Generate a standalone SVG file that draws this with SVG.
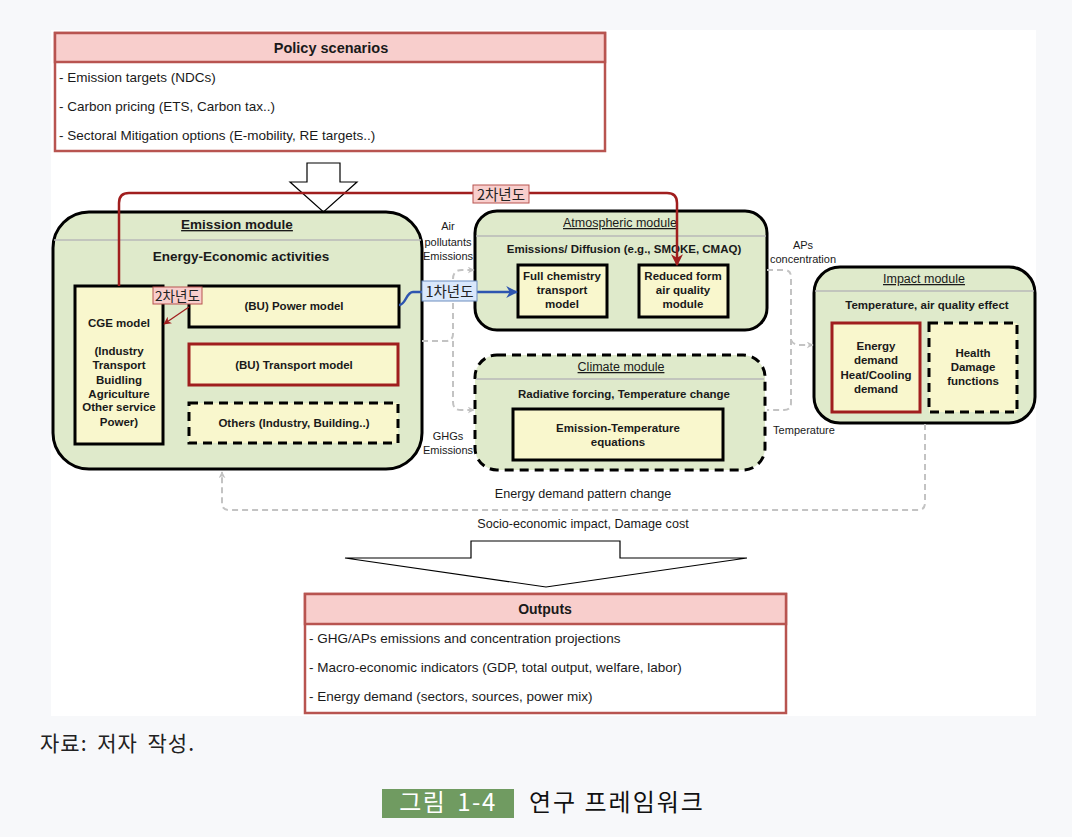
<svg xmlns="http://www.w3.org/2000/svg" width="1072" height="837" viewBox="0 0 1072 837">
  <style>
    .t { font-family: "Liberation Sans", Arial, sans-serif; fill: #1a1a1a; }
    .b { font-weight: bold; }
    .c { text-anchor: middle; }
    .kr { font-family: "Noto Sans CJK KR", "Liberation Sans", sans-serif; }
    .mod { fill: #dfeacb; stroke: #000; stroke-width: 3; }
    .box { fill: #f9f7cd; stroke: #000; stroke-width: 3; }
    .redbox { stroke: #a01e1e; }
    .dash { stroke-dasharray: 9 6; }
    .sep { stroke: #b8b8b8; stroke-width: 1.3; }
    .gray { fill: none; stroke: #c3c3c3; stroke-width: 2; stroke-dasharray: 6 4; }
    .panel { fill: #fff; stroke: #b85450; stroke-width: 2.5; }
    .panelhead { fill: #f8cecc; stroke: #b85450; stroke-width: 2.5; }
  </style>
  <defs>
    <marker id="ahGray" viewBox="0 0 10 10" refX="9" refY="5" markerWidth="7" markerHeight="7" markerUnits="userSpaceOnUse" orient="auto">
      <path d="M0,0 L10,5 L0,10 L3,5 Z" fill="#c3c3c3"/>
    </marker>
    <marker id="ahRed" viewBox="0 0 10 10" refX="9" refY="5" markerWidth="12" markerHeight="12" markerUnits="userSpaceOnUse" orient="auto">
      <path d="M0,0 L10,5 L0,10 L3,5 Z" fill="#a01e1e"/>
    </marker>
    <marker id="ahRedSmall" viewBox="0 0 10 10" refX="9" refY="5" markerWidth="8" markerHeight="8" markerUnits="userSpaceOnUse" orient="auto">
      <path d="M0,0 L10,5 L0,10 L3,5 Z" fill="#a01e1e"/>
    </marker>
    <marker id="ahBlue" viewBox="0 0 10 10" refX="9" refY="5" markerWidth="12" markerHeight="12" markerUnits="userSpaceOnUse" orient="auto">
      <path d="M0,0 L10,5 L0,10 L3,5 Z" fill="#2d55b0"/>
    </marker>
  </defs>

  <!-- page and figure backgrounds -->
  <rect x="0" y="0" width="1072" height="837" fill="#f7f8fa"/>
  <rect x="51" y="30" width="985" height="686" fill="#fff"/>

  <!-- policy scenarios panel -->
  <g id="policy">
    <rect class="panel" x="55" y="33" width="550" height="118"/>
    <rect class="panelhead" x="55" y="33" width="550" height="29"/>
    <text class="t b c" x="331" y="53" font-size="14.5">Policy scenarios</text>
    <text class="t" x="59" y="82" font-size="13.5">- Emission targets (NDCs)</text>
    <text class="t" x="59" y="111" font-size="13.5">- Carbon pricing (ETS, Carbon tax..)</text>
    <text class="t" x="59" y="140" font-size="13.5">- Sectoral Mitigation options (E-mobility, RE targets..)</text>
  </g>

  <!-- block arrow: policy into the modules -->
  <g id="policy-arrow">
    <polygon points="307,163 340,163 340,182 357,182 323.5,212 290,182 307,182" fill="#fff" stroke="#000" stroke-width="1.2"/>
  </g>

  <!-- emission module -->
  <g id="emission-module">
    <rect class="mod" x="53" y="212" width="369" height="257" rx="36"/>
    <line class="sep" x1="54" y1="240" x2="421" y2="240"/>
    <text class="t b c" x="237" y="229" font-size="13.5" fill="#333" text-decoration="underline">Emission module</text>
    <text class="t b c" x="241" y="261" font-size="13.5">Energy-Economic activities</text>
  </g>
  <g id="cge-model">
    <rect class="box" x="75" y="286" width="88" height="158"/>
    <g class="t b c" font-size="11.5">
      <text x="119" y="327">CGE model</text>
      <text x="119" y="355">(Industry</text>
      <text x="119" y="369">Transport</text>
      <text x="119" y="384">Buidling</text>
      <text x="119" y="398">Agriculture</text>
      <text x="119" y="411">Other service</text>
      <text x="119" y="426">Power)</text>
    </g>
  </g>
  <g id="power-model">
    <rect class="box" x="189" y="286" width="210" height="41"/>
    <text class="t b c" x="294" y="310" font-size="11.5">(BU) Power model</text>
  </g>
  <g id="transport-model">
    <rect class="box redbox" x="189" y="344" width="209" height="41"/>
    <text class="t b c" x="294" y="369" font-size="11.5">(BU) Transport model</text>
  </g>
  <g id="others-model">
    <rect class="box dash" x="189" y="403" width="209" height="40"/>
    <text class="t b c" x="294" y="427" font-size="11.5">Others (Industry, Building..)</text>
  </g>

  <!-- atmospheric module -->
  <g id="atmospheric-module">
    <rect class="mod" x="475" y="211" width="292" height="119" rx="22"/>
    <line class="sep" x1="476" y1="236" x2="766" y2="236"/>
    <text class="t c" x="620" y="227" font-size="12.5" fill="#333" text-decoration="underline">Atmospheric module</text>
    <text class="t b c" x="624" y="253" font-size="11.5">Emissions/ Diffusion (e.g., SMOKE, CMAQ)</text>
  </g>
  <g id="full-chemistry">
    <rect class="box" x="518" y="265" width="89" height="52"/>
    <g class="t b c" font-size="11.5">
      <text x="562" y="280">Full chemistry</text>
      <text x="562" y="294">transport</text>
      <text x="562" y="308">model</text>
    </g>
  </g>
  <g id="reduced-form">
    <rect class="box" x="639" y="265" width="89" height="52"/>
    <g class="t b c" font-size="11.5">
      <text x="683" y="280">Reduced form</text>
      <text x="683" y="294">air quality</text>
      <text x="683" y="308">module</text>
    </g>
  </g>

  <!-- climate module -->
  <g id="climate-module">
    <rect class="mod dash" x="475" y="355" width="290" height="115" rx="22"/>
    <line class="sep" x1="476" y1="379" x2="764" y2="379"/>
    <text class="t c" x="621" y="371" font-size="12.5" fill="#333" text-decoration="underline">Climate module</text>
    <text class="t b c" x="624" y="398" font-size="11.5">Radiative forcing, Temperature change</text>
  </g>
  <g id="emission-temperature">
    <rect class="box" x="513" y="409" width="210" height="51"/>
    <g class="t b c" font-size="11.5">
      <text x="618" y="432">Emission-Temperature</text>
      <text x="618" y="446">equations</text>
    </g>
  </g>

  <!-- impact module -->
  <g id="impact-module">
    <rect class="mod" x="814" y="267" width="221" height="156" rx="26"/>
    <line class="sep" x1="815" y1="291" x2="1034" y2="291"/>
    <text class="t c" x="924" y="283" font-size="12.5" fill="#333" text-decoration="underline">Impact module</text>
    <text class="t b c" x="927" y="309" font-size="11.5">Temperature, air quality effect</text>
  </g>
  <g id="energy-demand">
    <rect class="box redbox" x="832" y="323" width="88" height="89"/>
    <g class="t b c" font-size="11.5">
      <text x="876" y="350">Energy</text>
      <text x="876" y="364">demand</text>
      <text x="876" y="379">Heat/Cooling</text>
      <text x="876" y="393">demand</text>
    </g>
  </g>
  <g id="health-damage">
    <rect class="box dash" x="929" y="323" width="88" height="89"/>
    <g class="t b c" font-size="11.5">
      <text x="973" y="357">Health</text>
      <text x="973" y="371">Damage</text>
      <text x="973" y="385">functions</text>
    </g>
  </g>

  <!-- outputs panel -->
  <g id="outputs">
    <rect class="panel" x="305" y="594" width="481" height="119"/>
    <rect class="panelhead" x="305" y="594" width="481" height="30"/>
    <text class="t b c" x="545" y="614" font-size="14">Outputs</text>
    <text class="t" x="309" y="643" font-size="13.5">- GHG/APs emissions and concentration projections</text>
    <text class="t" x="309" y="672" font-size="13.5">- Macro-economic indicators (GDP, total output, welfare, labor)</text>
    <text class="t" x="309" y="701" font-size="13.5">- Energy demand (sectors, sources, power mix)</text>
  </g>

  <!-- block arrow: modules into outputs -->
  <g id="output-arrow">
    <polygon points="471,541 620,541 620,558 747,558 546,587 345,558 471,558" fill="#fff" stroke="#000" stroke-width="1.2"/>
  </g>

  <!-- connectors -->
  <g id="connectors">
    <!-- emissions to atmospheric and climate modules -->
    <path class="gray" d="M422,341 H446 Q453,341 453,334 V279 Q453,270 462,270 H474" marker-end="url(#ahGray)"/>
    <path class="gray" d="M453,341 V402 Q453,410 461,410 H474" marker-end="url(#ahGray)"/>
    <!-- concentration and temperature into impact module -->
    <path class="gray" d="M767,270 H784 Q791,270 791,277 V403 Q791,410 784,410 H767"/>
    <path class="gray" d="M791,340 Q793,345 800,345 H813" marker-end="url(#ahGray)"/>
    <!-- feedback loop to the emission module -->
    <path class="gray" d="M925,424 V503 Q925,510 918,510 H229 Q222,510 222,503 V472" marker-end="url(#ahGray)"/>

    <!-- second-year link: CGE to reduced form module -->
    <path d="M119,286 V203 Q119,193 129,193 H667 Q677,193 677,203 V265" fill="none" stroke="#a01e1e" stroke-width="2.5" marker-end="url(#ahRed)"/>
    <rect x="473" y="185" width="56" height="18" fill="#f8cecc" stroke="#b85450" stroke-width="1"/>
    <text class="kr c" x="501" y="199.5" font-size="14.5" fill="#222">2차년도</text>

    <!-- second-year link: power model to CGE -->
    <path d="M189,307 L164,324" fill="none" stroke="#a01e1e" stroke-width="1.3" marker-end="url(#ahRedSmall)"/>
    <rect x="153" y="287" width="49" height="17" fill="#f8cecc" stroke="#b85450" stroke-width="1"/>
    <text class="kr c" x="177.5" y="300.5" font-size="13.5" fill="#222">2차년도</text>

    <!-- first-year link: power model to full chemistry model -->
    <path d="M399,305 C406,305 406,292 413,292 H517" fill="none" stroke="#2d55b0" stroke-width="2.5" marker-end="url(#ahBlue)"/>
    <rect x="422" y="281" width="55" height="20" fill="#dae8fc" stroke="#6c8ebf" stroke-width="1"/>
    <text class="kr c" x="449.5" y="296.5" font-size="14.5" fill="#222">1차년도</text>

    <!-- connector labels -->
    <g class="t c" font-size="11" fill="#333">
      <text x="448" y="230">Air</text>
      <text x="448" y="246">pollutants</text>
      <text x="448" y="260">Emissions</text>
      <text x="448" y="440">GHGs</text>
      <text x="448" y="454">Emissions</text>
      <text x="803" y="249">APs</text>
      <text x="803" y="263">concentration</text>
      <text x="804" y="434">Temperature</text>
    </g>
    <g class="t c" font-size="12.6" fill="#1a1a1a">
      <text x="583" y="498">Energy demand pattern change</text>
      <text x="583" y="528">Socio-economic impact, Damage cost</text>
    </g>
  </g>

  <!-- source note and caption -->
  <text class="kr" x="40" y="751" font-size="21" fill="#222" letter-spacing="1" word-spacing="4">자료: 저자 작성.</text>
  <rect x="382" y="789" width="132" height="29" fill="#709b61"/>
  <text class="kr c" x="448" y="811" font-size="24" fill="#fff" letter-spacing="1.5" word-spacing="4">그림 1-4</text>
  <text class="kr" x="529" y="811" font-size="24" fill="#111" letter-spacing="2">연구 프레임워크</text>
</svg>
